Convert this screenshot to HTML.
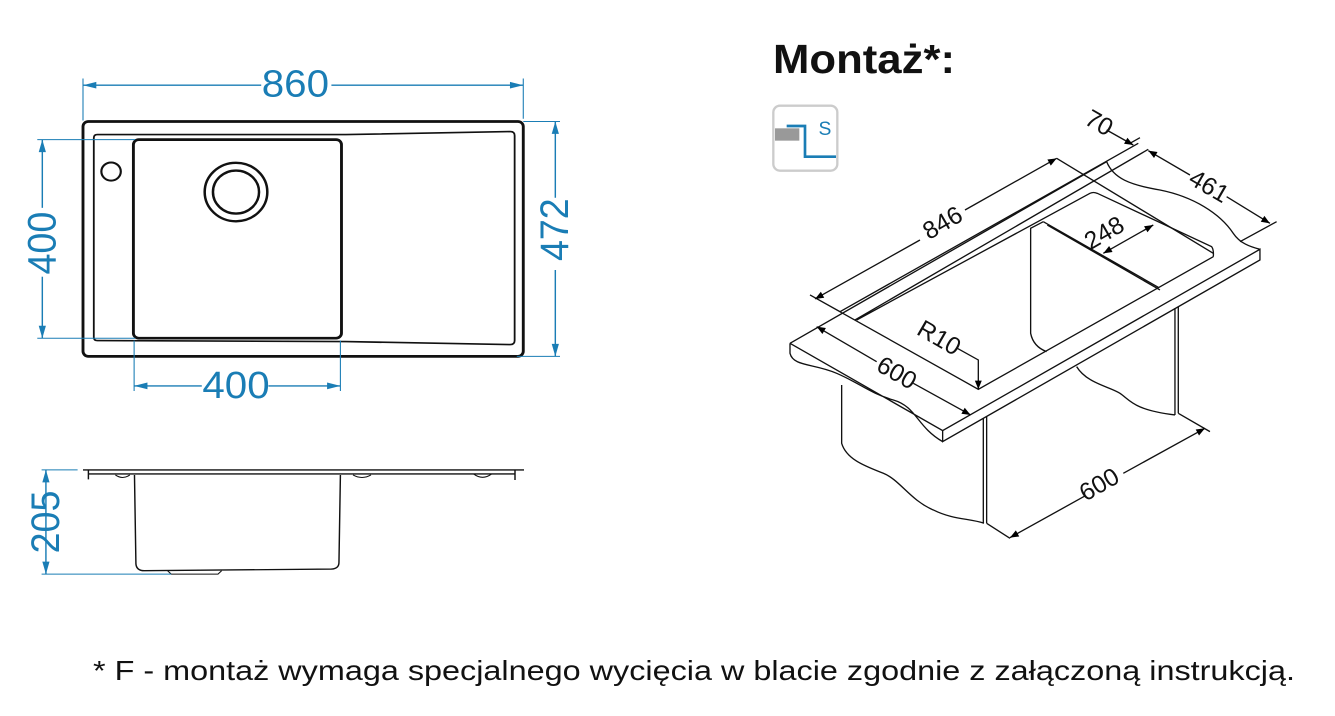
<!DOCTYPE html>
<html><head><meta charset="utf-8"><style>
html,body{margin:0;padding:0;background:#fff;}
svg{display:block;}
</style></head><body>
<svg width="1335" height="716" viewBox="0 0 1335 716" xmlns="http://www.w3.org/2000/svg">
<defs>
<marker id="k" viewBox="0 0 10 10" refX="10" refY="5" markerWidth="45" markerHeight="26" orient="auto-start-reverse" markerUnits="userSpaceOnUse"><path d="M0,1 L10,5 L0,9 z" fill="#000"/></marker>
</defs>
<!-- LEFT DRAWING -->
<g transform="translate(20,60) scale(0.36,0.336)">
 <g fill="none" stroke="#111">
  <rect x="175" y="183" width="1223" height="699" rx="15" stroke-width="8"/>
  <path d="M215,222 L905,222 L1362,213 Q1374,213 1374,225 L1374,835 Q1374,847 1362,847 L905,838 L215,835 Q205,835 205,825 L205,232 Q205,222 215,222 Z" stroke-width="5"/>
  <rect x="315" y="237" width="578" height="591" rx="15" stroke-width="8"/>
  <circle cx="600" cy="393" r="87" stroke-width="7"/>
  <circle cx="600" cy="393" r="64" stroke-width="7"/>
  <circle cx="253" cy="332" r="27" stroke-width="6"/>
  <path d="M175,1220 L1400,1220 M190,1232 L1375,1232 M1375,1222 L1375,1250 M190,1222 L190,1248" stroke-width="4"/>
  <path d="M318,1235 L322,1500 Q324,1520 345,1520 L865,1515 Q886,1514 886,1495 L890,1235" stroke-width="4"/>
  <path d="M410,1520 L420,1530 L550,1530 L560,1520" stroke-width="3"/>
  <path d="M265,1235 Q285,1250 305,1235 M925,1235 Q950,1250 975,1235 M1260,1232 Q1285,1252 1310,1232" stroke-width="3"/>
 </g>
 <g stroke="#1a7db5" stroke-width="3" fill="none">
  <path d="M175,55 L175,180 M1398,55 L1398,175 M1398,183 L1500,183 M1380,882 L1500,882 M48,237 L320,237 M48,828 L320,828 M317,835 L317,985 M890,835 L890,985 M60,1220 L160,1220 M60,1530 L420,1530"/>
 </g>
 <g stroke="#1a7db5" stroke-width="4" fill="none">
  <line x1="175" y1="75" x2="670" y2="75"/>
  <line x1="865" y1="75" x2="1398" y2="75"/>
  <line x1="1487" y1="183" x2="1487" y2="410"/>
  <line x1="1487" y1="625" x2="1487" y2="882"/>
  <line x1="62" y1="237" x2="62" y2="440"/>
  <line x1="62" y1="645" x2="62" y2="828"/>
  <line x1="317" y1="970" x2="505" y2="970"/>
  <line x1="690" y1="970" x2="890" y2="970"/>
  <line x1="72" y1="1220" x2="72" y2="1530"/>
 </g>
 <g fill="#1a7db5">
  <path d="M175,75 L212,65 L212,85Z M1398,75 L1361,65 L1361,85Z M1487,183 L1477,220 L1497,220Z M1487,882 L1477,845 L1497,845Z M62,237 L52,274 L72,274Z M62,828 L52,791 L72,791Z M317,970 L354,960 L354,980Z M890,970 L853,960 L853,980Z M72,1220 L62,1257 L82,1257Z M72,1530 L62,1493 L82,1493Z"/>
 </g>
 <g fill="#1a7db5" font-family="Liberation Sans, sans-serif" font-size="112" text-anchor="middle">
  <text x="765" y="108">860</text>
  <text x="600" y="1006">400</text>
  <text transform="translate(1522,505) rotate(-90)">472</text>
  <text transform="translate(98,545) rotate(-90)">400</text>
  <text transform="translate(108,1375) rotate(-90)">205</text>
 </g>
</g>
<!-- RIGHT ISO DRAWING -->
<text x="773" y="73" font-family="Liberation Sans, sans-serif" font-weight="bold" font-size="41" fill="#111" textLength="182" lengthAdjust="spacingAndGlyphs">Montaż*:</text>
<g transform="translate(760,90) scale(0.3333)">
 <rect x="40" y="47" width="192" height="195" rx="20" fill="none" stroke="#ccc" stroke-width="7"/>
 <rect x="45" y="115" width="73" height="37" fill="#999"/>
 <path d="M80,108 L135,108 L135,200 L228,200" fill="none" stroke="#1a7db5" stroke-width="8"/>
 <text x="195" y="135" font-family="Liberation Sans, sans-serif" font-size="58" fill="#1a7db5" text-anchor="middle">S</text>
 <g fill="none" stroke="#111" stroke-width="4">
  <path d="M90,760 L548,1022 L1500,478 L1500,510 L548,1055 L548,1022 M90,760 L90,790 C100,830 160,820 230,850 C300,880 330,910 400,930 C470,950 470,1010 548,1055"/>
  <path d="M90,760 L1040,215 C1060,265 1110,285 1200,300 C1300,320 1380,370 1420,430 C1440,460 1470,470 1500,478"/>
  <path d="M240,665 L1135,160 M285,690 L1165,178 M245,668 L655,898 L1360,500 M290,690 L990,310 Q1000,305 1012,310 L1355,470 Q1362,480 1360,500"/>
  <path d="M850,395 L1195,592 M862,405 L1200,600 M850,395 L812,415 L812,730 Q820,770 860,785"/>
  <path d="M890,205 L1360,490"/>
  <path d="M245,885 L245,1060 C260,1110 320,1130 370,1150 C420,1170 450,1230 520,1260 C580,1290 630,1285 672,1300 M670,985 L670,1300 M680,980 L680,1300 M1245,655 L1245,975 M1255,650 L1255,970 M950,830 C980,880 1050,890 1080,910 C1110,930 1120,960 1245,975"/>
  <path d="M680,1300 L750,1345 M1255,970 L1350,1025 M150,615 L245,668 M1440,455 L1550,395 M1110,160 L1140,143"/>
  <line x1="165" y1="627" x2="480" y2="450" marker-start="url(#k)"/>
  <line x1="615" y1="360" x2="890" y2="205" marker-end="url(#k)"/>
  <line x1="1165" y1="182" x2="1290" y2="255" marker-start="url(#k)"/>
  <line x1="1400" y1="320" x2="1530" y2="400" marker-end="url(#k)"/>
  <line x1="1040" y1="120" x2="1120" y2="165" marker-end="url(#k)"/>
  <line x1="1030" y1="490" x2="1180" y2="405" marker-start="url(#k)" marker-end="url(#k)"/>
  <line x1="170" y1="710" x2="350" y2="815" marker-start="url(#k)"/>
  <line x1="460" y1="880" x2="632" y2="975" marker-end="url(#k)"/>
  <line x1="750" y1="1343" x2="975" y2="1218" marker-start="url(#k)"/>
  <line x1="1090" y1="1150" x2="1335" y2="1015" marker-end="url(#k)"/>
  <path d="M592,775 L655,810 L655,898" marker-end="url(#k)"/>
 </g>
 <g font-family="Liberation Sans, sans-serif" font-size="74" fill="#111" text-anchor="middle">
  <text transform="translate(560,420) rotate(-30)">846</text>
  <text transform="translate(1045,450) rotate(-30)">248</text>
  <text transform="translate(1030,1205) rotate(-30)">600</text>
  <text transform="translate(1335,310) rotate(30)">461</text>
  <text transform="translate(1005,120) rotate(30)">70</text>
  <text transform="translate(525,765) rotate(30)">R10</text>
  <text transform="translate(398,870) rotate(30)">600</text>
 </g>
</g>
<text x="93" y="680" font-family="Liberation Sans, sans-serif" font-size="28" fill="#111" textLength="1202" lengthAdjust="spacingAndGlyphs">* F - montaż wymaga specjalnego wycięcia w blacie zgodnie z załączoną instrukcją.</text>
</svg>
</body></html>
